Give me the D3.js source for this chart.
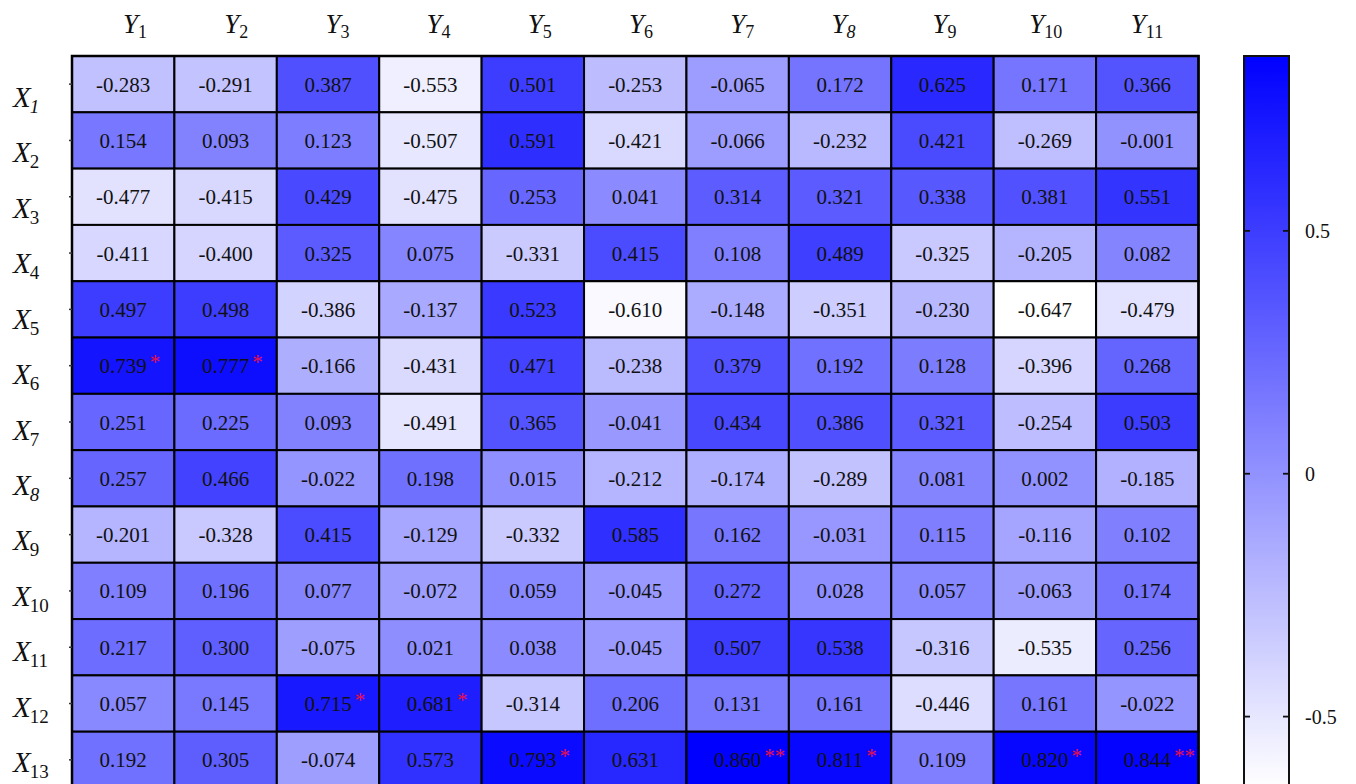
<!DOCTYPE html>
<html>
<head>
<meta charset="utf-8">
<script src="https://cdn.jsdelivr.net/npm/d3@7/dist/d3.min.js"></script>
<style>
  html, body { margin: 0; padding: 0; background: #fff; }
  svg { display: block; font-family: "Liberation Serif", "Times New Roman", serif; }
</style>
</head>
<body>
<svg id="chart" width="1356" height="784"></svg>
<script>
// Row (X) and column (Y) factors
const rowNames = ["1","2","3","4","5","6","7","8","9","10","11","12","13"];
const colNames = ["1","2","3","4","5","6","7","8","9","10","11"];
// Subscripts drawn in italic (as in the typeset labels)
const italicRowSubs = ["1","8"];
const italicColSubs = ["8"];

// Correlation coefficients, one array per X row
const X1  = [-0.283, -0.291,  0.387, -0.553,  0.501, -0.253, -0.065,  0.172,  0.625,  0.171,  0.366];
const X2  = [ 0.154,  0.093,  0.123, -0.507,  0.591, -0.421, -0.066, -0.232,  0.421, -0.269, -0.001];
const X3  = [-0.477, -0.415,  0.429, -0.475,  0.253,  0.041,  0.314,  0.321,  0.338,  0.381,  0.551];
const X4  = [-0.411, -0.400,  0.325,  0.075, -0.331,  0.415,  0.108,  0.489, -0.325, -0.205,  0.082];
const X5  = [ 0.497,  0.498, -0.386, -0.137,  0.523, -0.610, -0.148, -0.351, -0.230, -0.647, -0.479];
const X6  = [ 0.739,  0.777, -0.166, -0.431,  0.471, -0.238,  0.379,  0.192,  0.128, -0.396,  0.268];
const X7  = [ 0.251,  0.225,  0.093, -0.491,  0.365, -0.041,  0.434,  0.386,  0.321, -0.254,  0.503];
const X8  = [ 0.257,  0.466, -0.022,  0.198,  0.015, -0.212, -0.174, -0.289,  0.081,  0.002, -0.185];
const X9  = [-0.201, -0.328,  0.415, -0.129, -0.332,  0.585,  0.162, -0.031,  0.115, -0.116,  0.102];
const X10 = [ 0.109,  0.196,  0.077, -0.072,  0.059, -0.045,  0.272,  0.028,  0.057, -0.063,  0.174];
const X11 = [ 0.217,  0.300, -0.075,  0.021,  0.038, -0.045,  0.507,  0.538, -0.316, -0.535,  0.256];
const X12 = [ 0.057,  0.145,  0.715,  0.681, -0.314,  0.206,  0.131,  0.161, -0.446,  0.161, -0.022];
const X13 = [ 0.192,  0.305, -0.074,  0.573,  0.793,  0.631,  0.860,  0.811,  0.109,  0.820,  0.844];
const matrix = [X1, X2, X3, X4, X5, X6, X7, X8, X9, X10, X11, X12, X13];

// Significance marks: [row, column, stars]
const significance = [
  [6, 1, "*"], [6, 2, "*"],
  [12, 3, "*"], [12, 4, "*"],
  [13, 5, "*"], [13, 7, "**"], [13, 8, "*"], [13, 10, "*"], [13, 11, "**"]
];

// Colour bar ticks
const barTicks = [-0.5, 0, 0.5];

// ---- layout ----
const svg = d3.select("#chart");
const gridLeft = 72, gridRight = 1198.5, gridTop = 56, gridBottom = 788;
const barLeft = 1244, barRight = 1289;

const x = d3.scaleBand().domain(colNames).range([gridLeft, gridRight]);
const y = d3.scaleBand().domain(rowNames).range([gridTop, gridBottom]);
// header label positions (label centres / baselines)
const headerX = d3.scalePoint().domain(colNames).range([135, 1147]);
const headerY = d3.scalePoint().domain(rowNames).range([107, 772]);

const allVals = matrix.flat();
const vMin = d3.min(allVals), vMax = d3.max(allVals);
const color = d3.scaleLinear().domain([vMin, vMax]).range(["#ffffff", "#0000ff"]).interpolate(d3.interpolateRgb);

const cells = [];
matrix.forEach((row, i) => row.forEach((v, j) => cells.push({ r: rowNames[i], c: colNames[j], v })));
const sigMap = new Map(significance.map(([r, c, s]) => [`${r}-${c}`, s]));

// plain hyphen for negatives
const fmt = v => v.toFixed(3);

// ---- cells ----
svg.append("g").selectAll("rect")
  .data(cells)
  .join("rect")
  .attr("x", d => x(d.c))
  .attr("y", d => y(d.r))
  .attr("width", x.bandwidth())
  .attr("height", y.bandwidth())
  .attr("fill", d => color(d.v))
  .attr("stroke", "#000")
  .attr("stroke-width", 2);

const gText = svg.append("g");
const valueText = gText.selectAll("text.val")
  .data(cells)
  .join("text")
  .attr("class", "val")
  .attr("x", d => x(d.c) + x.bandwidth() / 2)
  .attr("y", d => y(d.r) + y.bandwidth() / 2 + 7.5)
  .attr("text-anchor", "middle")
  .attr("font-size", 21)
  .attr("fill", "#111")
  .text(d => fmt(d.v));

// significance stars, placed just after the value text
valueText.each(function (d) {
  const s = sigMap.get(`${d.r}-${d.c}`);
  if (!s) return;
  const w = this.getComputedTextLength();
  gText.append("text")
    .attr("x", x(d.c) + x.bandwidth() / 2 + w / 2 + 3)
    .attr("y", y(d.r) + y.bandwidth() / 2 + 3)
    .attr("font-size", 21)
    .attr("fill", "#e8104a")
    .text(s);
});

// outer frame
svg.append("rect")
  .attr("x", gridLeft).attr("y", gridTop)
  .attr("width", gridRight - gridLeft).attr("height", gridBottom - gridTop)
  .attr("fill", "none").attr("stroke", "#000").attr("stroke-width", 2.5);

// small row ticks at the left edge
svg.append("g").selectAll("line")
  .data(rowNames)
  .join("line")
  .attr("x1", gridLeft - 3).attr("x2", gridLeft)
  .attr("y1", d => y(d) + y.bandwidth() / 2)
  .attr("y2", d => y(d) + y.bandwidth() / 2)
  .attr("stroke", "#333").attr("stroke-width", 1.5);

// ---- column headers ----
const colLab = svg.append("g").selectAll("text")
  .data(colNames)
  .join("text")
  .attr("x", d => headerX(d))
  .attr("y", 33)
  .attr("text-anchor", "middle")
  .attr("fill", "#111");
colLab.append("tspan").attr("font-style", "italic").attr("font-size", 27).text("Y");
colLab.append("tspan")
  .attr("font-size", 18)
  .attr("dy", 5)
  .attr("font-style", d => italicColSubs.includes(d) ? "italic" : "normal")
  .text(d => d);

// ---- row headers ----
const rowLab = svg.append("g").selectAll("text")
  .data(rowNames)
  .join("text")
  .attr("x", 13)
  .attr("y", d => headerY(d))
  .attr("text-anchor", "start")
  .attr("fill", "#111");
rowLab.append("tspan").attr("font-style", "italic").attr("font-size", 29).text("X");
rowLab.append("tspan")
  .attr("font-size", 19)
  .attr("dy", 6)
  .attr("dx", -1)
  .attr("font-style", d => italicRowSubs.includes(d) ? "italic" : "normal")
  .text(d => d);

// ---- colour bar ----
const barScale = d3.scaleLinear().domain([vMin, vMax]).range([gridBottom, gridTop]);
const grad = svg.append("defs").append("linearGradient")
  .attr("id", "barGrad")
  .attr("x1", 0).attr("y1", 1).attr("x2", 0).attr("y2", 0);
d3.range(0, 1.0001, 0.1).forEach(t => {
  grad.append("stop").attr("offset", t).attr("stop-color", color(vMin + t * (vMax - vMin)));
});
svg.append("rect")
  .attr("x", barLeft).attr("y", gridTop)
  .attr("width", barRight - barLeft).attr("height", gridBottom - gridTop)
  .attr("fill", "url(#barGrad)")
  .attr("stroke", "#111").attr("stroke-width", 2);

const tickG = svg.append("g").selectAll("g")
  .data(barTicks)
  .join("g")
  .attr("transform", d => `translate(0,${barScale(d)})`);
tickG.append("line").attr("x1", barLeft).attr("x2", barLeft + 6).attr("stroke", "#111").attr("stroke-width", 1.8);
tickG.append("line").attr("x1", barRight - 6).attr("x2", barRight).attr("stroke", "#111").attr("stroke-width", 1.8);
tickG.append("text")
  .attr("x", 1305)
  .attr("y", 7)
  .attr("font-size", 20)
  .attr("fill", "#111")
  .text(d => String(d));
</script>
</body>
</html>
